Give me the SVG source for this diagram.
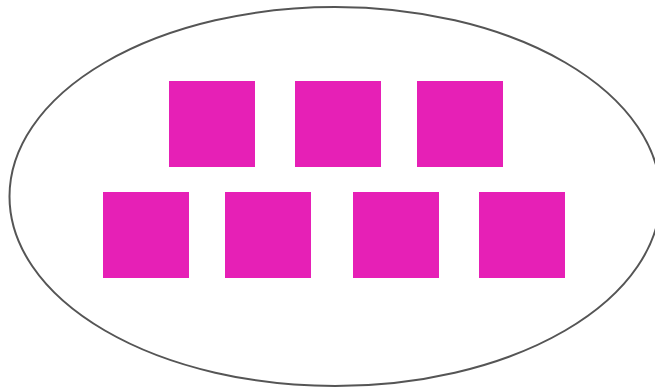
<svg xmlns="http://www.w3.org/2000/svg" width="655" height="390" viewBox="0 0 655 390">
<style>
.sq{fill:#E620B6;stroke:none}
.ring{fill:#fff;stroke:#555;stroke-width:2}
</style>
<rect width="655" height="390" fill="#fff"/>
<g id="container"><ellipse class="ring" cx="335" cy="196.5" rx="325.5" ry="189.5"/></g>
<g id="n1"><rect class="sq" x="169" y="81" width="86" height="86"/></g>
<g id="n2"><rect class="sq" x="295" y="81" width="86" height="86"/></g>
<g id="n3"><rect class="sq" x="417" y="81" width="86" height="86"/></g>
<g id="n4"><rect class="sq" x="103" y="192" width="86" height="86"/></g>
<g id="n5"><rect class="sq" x="225" y="192" width="86" height="86"/></g>
<g id="n6"><rect class="sq" x="353" y="192" width="86" height="86"/></g>
<g id="n7"><rect class="sq" x="479" y="192" width="86" height="86"/></g>
<g id="connectors"></g>
</svg>
